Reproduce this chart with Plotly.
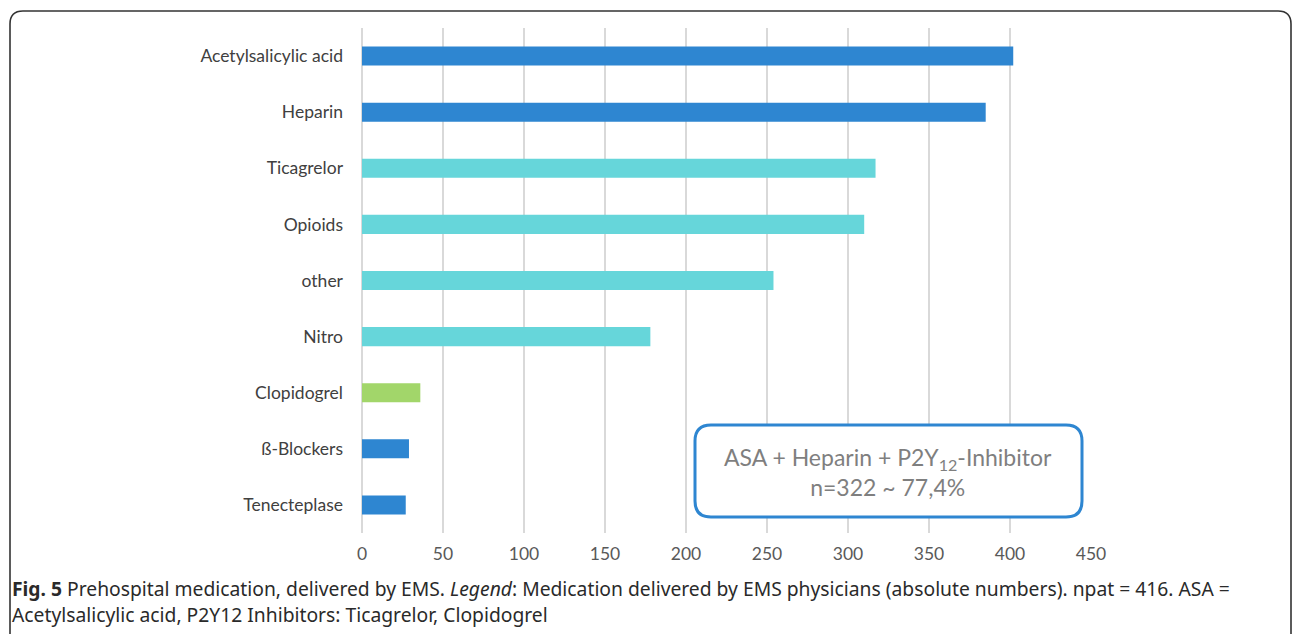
import plotly.graph_objects as go

categories = ["Acetylsalicylic acid", "Heparin", "Ticagrelor", "Opioids", "other",
              "Nitro", "Clopidogrel", "ß-Blockers", "Tenecteplase"]
values = [402, 385, 317, 310, 254, 178, 36, 29, 27]
bar_colors = ["#2E86D1", "#2E86D1", "#66D6DA", "#66D6DA", "#66D6DA",
              "#66D6DA", "#A2D66A", "#2E86D1", "#2E86D1"]
x_ticks = [0, 50, 100, 150, 200, 250, 300, 350, 400, 450]

W, H = 1292, 634
L, R, T, B = 362, 1091, 28, 533


def px(X):
    return (X - L) / (R - L)


def py(Y):
    return (B - Y) / (B - T)


def rounded_path(x0, y0, x1, y1, r):
    return (f"M {px(x0 + r)},{py(y0)} L {px(x1 - r)},{py(y0)} "
            f"Q {px(x1)},{py(y0)} {px(x1)},{py(y0 + r)} "
            f"L {px(x1)},{py(y1 - r)} Q {px(x1)},{py(y1)} {px(x1 - r)},{py(y1)} "
            f"L {px(x0 + r)},{py(y1)} Q {px(x0)},{py(y1)} {px(x0)},{py(y1 - r)} "
            f"L {px(x0)},{py(y0 + r)} Q {px(x0)},{py(y0)} {px(x0 + r)},{py(y0)} Z")


fig = go.Figure(go.Bar(
    x=values, y=categories, orientation="h",
    marker=dict(color=bar_colors, line=dict(width=0)),
    width=0.34,
))

frame_path = (f"M {px(10)},{py(640)} L {px(10)},{py(24)} Q {px(10)},{py(11)} {px(23)},{py(11)} "
              f"L {px(1278)},{py(11)} Q {px(1291)},{py(11)} {px(1291)},{py(24)} L {px(1291)},{py(640)}")

fig.update_layout(
    width=W, height=H,
    margin=dict(l=L, r=W - R, t=T, b=H - B),
    paper_bgcolor="white", plot_bgcolor="white",
    showlegend=False,
    font=dict(family="Lato, Open Sans, sans-serif", color="#595959", size=17),
    xaxis=dict(range=[0, 450], tickvals=x_ticks, showgrid=True, gridcolor="#D9D9D9",
               gridwidth=1.5, zeroline=True, zerolinecolor="#D9D9D9", zerolinewidth=1.5,
               ticks="", ticklabelstandoff=8,
               tickfont=dict(size=17.5, color="#595959"), showline=False),
    yaxis=dict(categoryorder="array", categoryarray=categories[::-1],
               range=[-0.5, 8.5], ticks="", ticklen=0, ticklabelstandoff=18,
               tickfont=dict(size=17.5, color="#404040"), showgrid=False, showline=False),
    shapes=[
        dict(type="path", xref="paper", yref="paper", path=frame_path,
             line=dict(color="#333333", width=1.6)),
        dict(type="path", xref="paper", yref="paper",
             path=rounded_path(695, 425, 1082, 517, 16),
             line=dict(color="#2E86D1", width=3), fillcolor="white"),
    ],
    annotations=[
        dict(xref="paper", yref="paper", x=px(888), y=py(472),
             text="ASA + Heparin + P2Y<sub>12</sub>-Inhibitor<br>n=322 ~ 77,4%",
             showarrow=False, font=dict(size=23, color="#7F7F7F", family="Lato, sans-serif"),
             align="center", xanchor="center", yanchor="middle"),
        dict(xref="paper", yref="paper", x=px(10), y=py(588), xanchor="left", yanchor="middle",
             text="<b>Fig. 5</b> Prehospital medication, delivered by EMS. <i>Legend</i>: Medication "
                  "delivered by EMS physicians (absolute numbers). npat = 416. ASA =",
             showarrow=False, font=dict(size=19.3, color="#2A2A2A", family="Noto Sans, Open Sans, sans-serif")),
        dict(xref="paper", yref="paper", x=px(10), y=py(614), xanchor="left", yanchor="middle",
             text="Acetylsalicylic acid, P2Y12 Inhibitors: Ticagrelor, Clopidogrel",
             showarrow=False, font=dict(size=19.3, color="#2A2A2A", family="Noto Sans, Open Sans, sans-serif")),
    ],
)

fig.write_html("out.html")
